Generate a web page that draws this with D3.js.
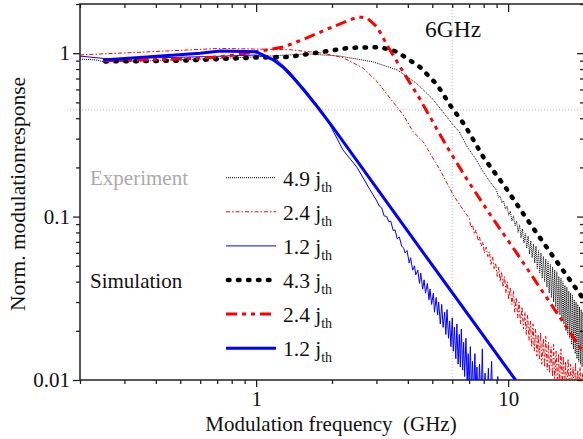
<!DOCTYPE html>
<html><head><meta charset="utf-8">
<script src="https://cdn.jsdelivr.net/npm/d3@7"></script>
<style>
html,body{margin:0;padding:0;background:#fff;}
svg{display:block;}
text{font-family:"Liberation Serif","Times New Roman",serif;}
</style></head>
<body><svg id="c" width="583" height="439"></svg>
<script>
// ---------- data (GHz, normalized response) ----------
const xMajorTicks = [1, 10];
const xTickLabels = ["1", "10"];
const xMinorTicks = [0.2,0.3,0.4,0.5,0.6,0.7,0.8,0.9,2,3,4,5,6,7,8,9,20];
const yMajorTicks = [0.01, 0.1, 1];
const yTickLabels = ["0.01", "0.1", "1"];
const yMinorTicks = [0.02,0.03,0.04,0.05,0.06,0.07,0.08,0.09,0.2,0.3,0.4,0.5,0.6,0.7,0.8,0.9,2];
const markerFreq = 6;      // vertical reference line
const markerLevel = 0.45;  // horizontal reference line

const expLabels = ["4.9", "2.4", "1.2"];
const simLabels = ["4.3", "2.4", "1.2"];

const exp49 = [[0.2,0.92],[0.23,0.91],[0.25,0.885],[0.38,0.90],[0.6,0.92],[1.0,0.95],[1.59,0.99],[2.15,0.96],
 [2.91,0.885],[3.63,0.79],[4.35,0.65],[5.04,0.52],[6.05,0.364],[6.4,0.33],[6.88,0.267],[7.4,0.228],[7.96,0.188],[8.5,0.162],
 [9.0,0.145],[9.15,0.131],[9.3,0.134],[9.45,0.121],[9.6,0.125],[9.75,0.111],[9.9,0.116],[10.05,0.102],[10.2,0.108],[10.35,0.094],
 [10.5,0.101],[10.65,0.088],[10.8,0.094],[10.95,0.080],[11.1,0.089],[11.25,0.074],[11.4,0.084],[11.55,0.069],[11.7,0.079],
 [11.85,0.064],[12.0,0.076],[12.15,0.059],[12.3,0.071],[12.45,0.056],[12.6,0.068],[12.75,0.052],[12.9,0.066],[13.05,0.048],
 [13.2,0.062],[13.35,0.045],[13.5,0.060],[13.65,0.042],[13.8,0.057],[13.95,0.040],[14.1,0.055],[14.25,0.037],[14.4,0.053],
 [14.55,0.034],[14.7,0.051],[14.85,0.032],[15.0,0.049],[15.15,0.030],[15.3,0.047],[15.45,0.028],[15.6,0.046],[15.75,0.026],
 [15.9,0.043],[16.05,0.025],[16.2,0.042],[16.35,0.023],[16.5,0.040],[16.65,0.022],[16.8,0.038],[16.95,0.020],[17.1,0.037],
 [17.25,0.019],[17.4,0.035],[17.55,0.018],[17.7,0.034],[17.85,0.0165],[18.0,0.033],[18.15,0.0155],[18.3,0.031],[18.45,0.0145],
 [18.6,0.030],[18.75,0.0135],[18.9,0.029],[19.05,0.013],[19.2,0.028],[19.35,0.0125],[19.5,0.027],[19.65,0.012],[19.8,0.026],[20.0,0.018]];

const exp24 = [[0.2,0.976],[0.38,1.02],[0.72,1.07],[1.0,1.06],[1.36,1.05],[1.84,1.0],[2.21,0.94],[2.66,0.81],[3.02,0.67],
 [3.40,0.53],[3.83,0.42],[4.20,0.33],[4.60,0.287],[5.37,0.193],[6.05,0.136],[6.5,0.115],
 [7.0,0.098],[7.12,0.086],[7.22,0.089],[7.35,0.078],[7.45,0.083],[7.6,0.071],[7.7,0.075],[7.82,0.066],[7.95,0.070],[8.05,0.060],
 [8.18,0.065],[8.3,0.057],[8.42,0.061],[8.55,0.051],[8.68,0.057],[8.8,0.048],[8.92,0.052],[9.05,0.043],[9.18,0.049],[9.3,0.040],
 [9.42,0.046],[9.55,0.037],[9.68,0.043],[9.8,0.034],[9.92,0.040],[10.05,0.031],[10.2,0.037],[10.35,0.029],[10.5,0.035],
 [10.62,0.026],[10.78,0.032],[10.92,0.024],[11.05,0.030],[11.2,0.022],[11.35,0.028],[11.5,0.0205],[11.65,0.026],[11.8,0.019],
 [11.95,0.025],[12.1,0.0175],[12.25,0.023],[12.4,0.016],[12.55,0.022],[12.7,0.015],[12.85,0.0205],[13.0,0.014],[13.15,0.019],
 [13.3,0.0135],[13.45,0.0195],[13.6,0.0125],[13.8,0.018],[13.95,0.012],[14.1,0.0185],[14.3,0.0115],[14.45,0.017],[14.6,0.011],
 [14.8,0.016],[15.0,0.0105],[15.15,0.0165],[15.3,0.0098],[15.5,0.015],[15.7,0.0095],[15.85,0.0145],[16.0,0.0092],[16.2,0.0155],
 [16.4,0.009],[16.55,0.014],[16.75,0.0088],[16.9,0.013],[17.1,0.0085],[17.3,0.0135],[17.5,0.0083],[17.7,0.0125],[17.9,0.008],
 [18.1,0.012],[18.3,0.0078],[18.5,0.0128],[18.7,0.0076],[18.9,0.0115],[19.1,0.0074],[19.3,0.012],[19.5,0.0072],[19.7,0.011],
 [19.9,0.007],[20.0,0.0105]];

const exp12 = [[0.2,0.96],[0.264,0.92],[0.38,0.935],[0.675,0.955],[1.0,0.975],[1.21,0.91],[1.36,0.77],[1.59,0.58],[1.79,0.456],
 [1.97,0.36],[2.21,0.256],[2.52,0.199],[2.83,0.146],
 [3.0,0.126],[3.08,0.116],[3.15,0.113],[3.22,0.101],[3.3,0.100],[3.36,0.093],[3.42,0.094],[3.5,0.082],[3.56,0.083],[3.63,0.073],
 [3.7,0.075],[3.78,0.066],[3.85,0.064],[3.9,0.060],[3.97,0.062],[4.05,0.052],[4.1,0.056],[4.18,0.047],[4.25,0.050],[4.3,0.044],
 [4.38,0.047],[4.45,0.039],[4.5,0.045],[4.58,0.036],[4.64,0.041],[4.7,0.034],[4.78,0.039],[4.85,0.031],[4.9,0.036],[4.97,0.029],
 [5.05,0.034],[5.1,0.026],[5.18,0.032],[5.25,0.025],[5.3,0.030],[5.38,0.022],[5.45,0.029],[5.52,0.021],[5.6,0.026],[5.66,0.019],
 [5.72,0.027],[5.8,0.018],[5.86,0.023],[5.93,0.016],[6.0,0.024],[6.06,0.015],[6.12,0.021],[6.2,0.0135],[6.26,0.022],[6.33,0.0125],
 [6.4,0.019],[6.46,0.012],[6.52,0.0205],[6.6,0.0115],[6.66,0.017],[6.72,0.0105],[6.8,0.018],[6.88,0.0095],[6.94,0.0145],[7.0,0.009],
 [7.08,0.016],[7.15,0.0085],[7.22,0.013],[7.3,0.008],[7.38,0.0145],[7.45,0.0078],[7.52,0.012],[7.6,0.0072],[7.7,0.0125],[7.8,0.007],
 [7.9,0.0155],[7.98,0.0068],[8.1,0.011],[8.2,0.0066],[8.35,0.0118],[8.45,0.0064],[8.6,0.013],[8.7,0.0062],[8.85,0.0098],[8.95,0.006],
 [9.1,0.0105],[9.2,0.006],[9.4,0.0092],[9.5,0.006]];

const sim43 = [[0.252,0.89],[0.5,0.90],[1.0,0.94],[1.36,0.95],[1.84,1.02],[2.36,1.08],[3.10,1.09],[3.63,1.02],[4.48,0.82],
 [5.23,0.64],[5.89,0.48],[6.75,0.36],[7.96,0.232],[9.73,0.152],[11.7,0.0998],[15.1,0.0568],[20.0,0.031]];

const sim24 = [[0.247,0.90],[0.5,0.92],[0.72,0.95],[1.0,1.02],[1.28,1.09],[1.59,1.24],[1.97,1.43],[2.36,1.60],[2.54,1.67],
 [2.76,1.64],[3.02,1.45],[3.31,1.12],[3.83,0.77],[4.48,0.52],[5.72,0.267],[6.88,0.168],[8.48,0.103],[10.8,0.060],[14.4,0.031],[19.8,0.0149]];

const sim12 = [[0.247,0.91],[0.38,0.95],[0.60,1.0],[0.72,1.03],[1.0,1.02],[1.17,0.91],[1.28,0.82],[1.40,0.71],[1.54,0.60],
 [1.75,0.47],[2.02,0.35],[4.64,0.0592],[10.7,0.01]];

// ---------- layout ----------
const svg = d3.select("#c");
const L = 80, R = 584, T = 4, B = 380;
const x = d3.scaleLog().domain([0.2, 20]).range([L, R]);
const y = d3.scaleLog().domain([0.01, 2]).range([B, T]);
const font = '"Liberation Serif","Times New Roman",serif';

svg.append("defs").append("clipPath").attr("id","clip")
  .append("rect").attr("x",L).attr("y",T).attr("width",R-L).attr("height",B-T);

// reference lines
svg.append("line").attr("x1",x(markerFreq)).attr("x2",x(markerFreq)).attr("y1",T).attr("y2",B)
  .attr("stroke","#bbb").attr("stroke-width",1).attr("stroke-dasharray","1,2");
svg.append("line").attr("x1",67).attr("x2",R).attr("y1",y(markerLevel)).attr("y2",y(markerLevel))
  .attr("stroke","#bbb").attr("stroke-width",1).attr("stroke-dasharray","1,2");

// axes
function styleAxis(g){
  g.selectAll("path.domain").remove();
  g.selectAll("line").attr("stroke","#222").attr("stroke-width",1.3);
  g.selectAll("text").attr("font-family",font).attr("font-size",21).attr("fill","#111");
}
const none = () => "";
svg.append("g").attr("transform",`translate(0,${B})`)
  .call(d3.axisBottom(x).tickValues(xMajorTicks).tickSize(7).tickPadding(4).tickFormat((d,i)=>xTickLabels[i])).call(styleAxis);
svg.append("g").attr("transform",`translate(0,${B})`)
  .call(d3.axisBottom(x).tickValues(xMinorTicks).tickSize(4).tickFormat(none)).call(styleAxis);
svg.append("g").attr("transform",`translate(0,${T})`)
  .call(d3.axisTop(x).tickValues(xMajorTicks).tickSize(-8).tickFormat(none)).call(styleAxis);
svg.append("g").attr("transform",`translate(0,${T})`)
  .call(d3.axisTop(x).tickValues(xMinorTicks).tickSize(-4).tickFormat(none)).call(styleAxis);
svg.append("g").attr("transform",`translate(${L},0)`)
  .call(d3.axisLeft(y).tickValues(yMajorTicks).tickSize(7).tickPadding(3).tickFormat((d,i)=>yTickLabels[i])).call(styleAxis);
svg.append("g").attr("transform",`translate(${L},0)`)
  .call(d3.axisLeft(y).tickValues(yMinorTicks).tickSize(4).tickFormat(none)).call(styleAxis);
svg.append("g").attr("transform",`translate(${R},0)`)
  .call(d3.axisRight(y).tickValues(yMajorTicks).tickSize(-7).tickFormat(none)).call(styleAxis);
svg.append("g").attr("transform",`translate(${R},0)`)
  .call(d3.axisRight(y).tickValues(yMinorTicks).tickSize(-4).tickFormat(none)).call(styleAxis);

svg.append("rect").attr("x",L).attr("y",T).attr("width",R-L).attr("height",B-T)
  .attr("fill","none").attr("stroke","#222").attr("stroke-width",1.5);

// series
const line = d3.line().x(d=>x(d[0])).y(d=>y(d[1]));
const series = [
  {data:exp49, color:"#000", w:1,   dash:"1,1",          cap:"butt"},
  {data:exp24, color:"#ff0000", w:1, dash:"4,2,1.5,2",   cap:"butt"},
  {data:exp12, color:"#0000ff", w:1, dash:null,          cap:"butt"},
  {data:sim43, color:"#000", w:4.5, dash:"1.5,8.5",      cap:"round"},
  {data:sim24, color:"#ff0000", w:3, dash:"11,5,4,5,4,5", cap:"butt"},
  {data:sim12, color:"#0000ff", w:3, dash:null,          cap:"butt"}
];
const gp = svg.append("g").attr("clip-path","url(#clip)");
series.forEach(s=>{
  gp.append("path").attr("d",line(s.data)).attr("fill","none")
    .attr("stroke",s.color).attr("stroke-width",s.w)
    .attr("stroke-dasharray",s.dash).attr("stroke-linecap",s.cap).attr("stroke-linejoin","round");
});

// legend
svg.append("text").attr("x",90).attr("y",185).attr("font-size",21).attr("fill","#aaa").text("Experiment");
svg.append("text").attr("x",90).attr("y",288).attr("font-size",21).attr("fill","#111").text("Simulation");
const legendLabels = expLabels.concat(simLabels);
series.forEach((s,i)=>{
  const ly = 177.7 + i*34.1;
  svg.append("line").attr("x1",s.cap==="round"?228:226).attr("x2",276).attr("y1",ly).attr("y2",ly)
    .attr("stroke",s.color).attr("stroke-width",s.w)
    .attr("stroke-dasharray",s.dash).attr("stroke-linecap",s.cap);
  const t = svg.append("text").attr("x",283).attr("y",ly+8).attr("font-size",21.5).attr("fill","#111");
  t.append("tspan").text(legendLabels[i] + " j");
  t.append("tspan").attr("font-size",14).attr("dy",6).text("th");
});

// annotation
svg.append("text").attr("x",425).attr("y",37).attr("font-size",23.5).attr("fill","#111").text("6GHz");

// axis titles
svg.append("text").attr("x",331).attr("y",431).attr("text-anchor","middle").attr("font-size",21)
  .attr("fill","#111").style("white-space","pre").text("Modulation frequency  (GHz)");
svg.append("text").attr("transform","translate(25,194) rotate(-90)").attr("text-anchor","middle")
  .attr("font-size",21.5).attr("fill","#111").text("Norm. modulationresponse");
</script></body></html>
